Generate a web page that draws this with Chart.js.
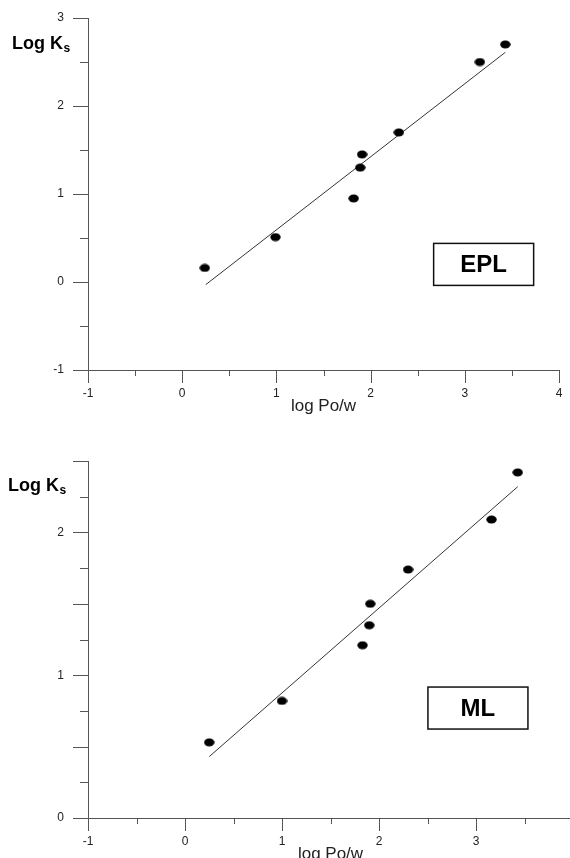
<!DOCTYPE html>
<html>
<head>
<meta charset="utf-8">
<script src="https://cdn.jsdelivr.net/npm/chart.js@4"></script>
<style>
  html, body { margin: 0; padding: 0; background: #fff; overflow: hidden; }
  #wrap { position: relative; width: 570px; height: 858px; overflow: hidden; }
  canvas { position: absolute; left: 0; }
  #epl { top: 0; }
  #ml { top: 440px; }
</style>
</head>
<body>
<div id="wrap">
  <canvas id="epl" width="570" height="440"></canvas>
  <canvas id="ml" width="600" height="440"></canvas>
</div>
<script>
// x axis (shared)
const xMajor = [-1, 0, 1, 2, 3, 4];
const xMinor = [-0.5, 0.5, 1.5, 2.5, 3.5];

// EPL panel
const eplLogP = [0.24, 0.99, 1.82, 1.89, 1.91, 2.30, 3.16, 3.43];
const eplLogKs = [0.16, 0.51, 0.95, 1.30, 1.45, 1.70, 2.50, 2.70];
const eplFitX = [0.25, 3.43];
const eplFitY = [-0.03, 2.61];
const eplYMajor = [-1, 0, 1, 2, 3];
const eplYMinor = [-0.5, 0.5, 1.5, 2.5];

// ML panel
const mlLogP = [0.25, 1.00, 1.83, 1.90, 1.91, 2.30, 3.16, 3.43];
const mlLogKs = [0.53, 0.82, 1.21, 1.35, 1.50, 1.74, 2.09, 2.42];
const mlFitX = [0.25, 3.43];
const mlFitY = [0.43, 2.32];
const mlYMajor = [0, 0.5, 1, 1.5, 2, 2.5];
const mlYMinor = [0.25, 0.75, 1.25, 1.75, 2.25];

const FONT = "'Liberation Sans', Arial, sans-serif";
const INK = '#222';
const AXIS = '#555';

// slightly flattened dot like the scanned markers
const dot = document.createElement('canvas');
dot.width = 11; dot.height = 9;
(function () {
  const c = dot.getContext('2d');
  c.fillStyle = '#000';
  c.beginPath();
  c.ellipse(5.5, 4.5, 5.2, 4, 0, 0, Math.PI * 2);
  c.fill();
})();

const noOverhang = s => {
  s.paddingTop = 0; s.paddingBottom = 0; s.paddingLeft = 0; s.paddingRight = 0;
};

const tickMarks = {
  id: 'tickMarks',
  afterDraw(chart, args, o) {
    const { ctx } = chart;
    const x = chart.scales.x, y = chart.scales.y;
    ctx.save();
    ctx.strokeStyle = AXIS;
    ctx.lineWidth = 1;
    ctx.beginPath();
    const xs = (vals, len) => vals.forEach(v => {
      const px = Math.round(x.getPixelForValue(v)) + 0.5;
      ctx.moveTo(px, y.bottom); ctx.lineTo(px, y.bottom + len);
    });
    const ys = (vals, len) => vals.forEach(v => {
      const py = Math.round(y.getPixelForValue(v)) + 0.5;
      ctx.moveTo(x.left, py); ctx.lineTo(x.left - len, py);
    });
    xs(o.xMajor, 13); xs(o.xMinor, 6);
    ys(o.yMajor, 15); ys(o.yMinor, 8);
    ctx.stroke();
    ctx.restore();
  }
};

const labels = {
  id: 'labels',
  afterDraw(chart, args, o) {
    const { ctx } = chart;
    const x = chart.scales.x, y = chart.scales.y;
    ctx.save();
    ctx.fillStyle = '#000';
    ctx.textBaseline = 'alphabetic';
    ctx.textAlign = 'left';
    ctx.font = 'bold 18px ' + FONT;
    ctx.fillText('Log K', o.ylabX, o.ylabY);
    const w = ctx.measureText('Log K').width;
    ctx.font = 'bold 12px ' + FONT;
    ctx.fillText('s', o.ylabX + w + 0.5, o.ylabY + 3);

    const cx = x.getPixelForValue(o.boxX), cy = y.getPixelForValue(o.boxY);
    ctx.strokeStyle = '#111';
    ctx.lineWidth = 1.5;
    ctx.strokeRect(cx - 50, cy - 21, 100, 42);
    ctx.font = 'bold 24px ' + FONT;
    ctx.textAlign = 'center';
    ctx.textBaseline = 'middle';
    ctx.fillText(o.box, cx, cy + 1);
    ctx.restore();
  }
};

function panel(id, p) {
  const pts = p.xs.map((v, i) => ({ x: v, y: p.ys[i] }));
  const fit = p.fx.map((v, i) => ({ x: v, y: p.fy[i] }));
  return new Chart(document.getElementById(id), {
    type: 'scatter',
    data: {
      datasets: [
        { data: pts, pointStyle: dot, pointRadius: 5, pointHoverRadius: 5 },
        { type: 'line', data: fit, borderColor: '#333', borderWidth: 1, pointRadius: 0, fill: false }
      ]
    },
    options: {
      responsive: false,
      animation: false,
      events: [],
      layout: { padding: { top: p.top, right: p.right, left: 0, bottom: 0 } },
      plugins: {
        legend: { display: false },
        tooltip: { enabled: false },
        tickMarks: { xMajor, xMinor, yMajor: p.yMajor, yMinor: p.yMinor },
        labels: { ylabX: p.ylabX, ylabY: p.ylabY, box: p.box, boxX: p.boxX, boxY: p.boxY }
      },
      scales: {
        x: {
          type: 'linear', min: -1, max: 4,
          afterFit: s => { s.height = p.xH; noOverhang(s); },
          grid: { display: false, drawTicks: false },
          border: { display: true, color: AXIS, width: 1 },
          ticks: { stepSize: 1, padding: 16, color: INK, font: { family: FONT, size: 12 } },
          title: { display: true, text: 'log Po/w', color: INK, font: { family: FONT, size: 17 }, padding: { top: 0, bottom: p.xTitlePad } }
        },
        y: {
          type: 'linear', min: p.ymin, max: p.ymax,
          afterFit: s => { s.width = 88; noOverhang(s); },
          grid: { display: false, drawTicks: false },
          border: { display: true, color: AXIS, width: 1 },
          ticks: {
            stepSize: 1, includeBounds: false, padding: 24, color: INK,
            font: { family: FONT, size: 12 },
            callback: v => Number.isInteger(v) ? v : ''
          }
        }
      }
    },
    plugins: [tickMarks, labels]
  });
}

panel('epl', {
  xs: eplLogP, ys: eplLogKs, fx: eplFitX, fy: eplFitY,
  ymin: -1, ymax: 3, yMajor: eplYMajor, yMinor: eplYMinor,
  top: 18, right: 11, xH: 70, xTitlePad: 23,
  ylabX: 12, ylabY: 49, box: 'EPL', boxX: 3.2, boxY: 0.2
});

panel('ml', {
  xs: mlLogP, ys: mlLogKs, fx: mlFitX, fy: mlFitY,
  ymin: 0, ymax: 2.5, yMajor: mlYMajor, yMinor: mlYMinor,
  top: 21, right: 27, xH: 62, xTitlePad: 15,
  ylabX: 8, ylabY: 51, box: 'ML', boxX: 3.02, boxY: 0.77
});
</script>
</body>
</html>
